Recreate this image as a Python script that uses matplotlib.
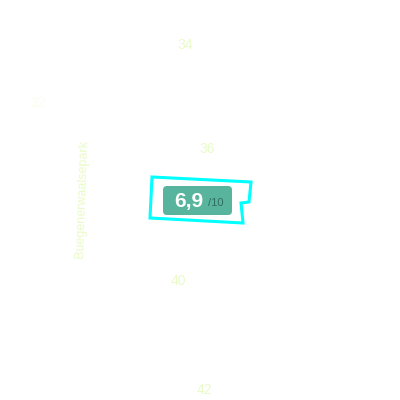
import matplotlib
matplotlib.use("Agg")
import matplotlib.pyplot as plt
from matplotlib.patches import FancyBboxPatch

# huisnummers op de kaart
house_numbers = ["34", "36", "40", "42"]
number_x = [185, 207, 178, 204]
number_y = [45, 149, 281, 390]

# bijna onzichtbaar label links boven (tekst niet goed leesbaar)
faint_number = "32"
faint_x = 38
faint_y = 103

street_name = "Buegenerwaalsepark"
street_x = 82
street_y = 199

# omtrek van het perceel
plot_x = [152, 251, 249, 241, 243, 150]
plot_y = [177, 182, 202, 203, 223, 218]

score = "6,9"
score_max = "/10"

fig = plt.figure(figsize=(4, 4), dpi=100)
ax = fig.add_axes([0, 0, 1, 1])
ax.set_xlim(0, 400)
ax.set_ylim(400, 0)
ax.axis("off")

LABEL = "#e9fbc8"

for nr, x, y in zip(house_numbers, number_x, number_y):
    ax.text(x, y, nr, color=LABEL, fontsize=10, ha="center", va="center",
            family="Liberation Sans")

ax.text(faint_x, faint_y, faint_number, color="#fdfdf0", fontsize=10, ha="center",
        va="center", family="Liberation Sans")

ax.text(street_x, street_y, street_name, color=LABEL, fontsize=9, rotation=88,
        ha="center", va="center", family="Liberation Sans", rotation_mode="anchor")

# perceel
ax.fill(plot_x, plot_y, facecolor="white", edgecolor="#00ffff", linewidth=2.2,
        joinstyle="miter")

# scorelabel
box = FancyBboxPatch((166, 189), 63, 23, boxstyle="round,pad=3,rounding_size=4",
                     facecolor="#58b49c", edgecolor="none")
ax.add_patch(box)
ax.text(174, 202, score, color="white", fontsize=15, fontweight="bold", ha="left",
        va="center", family="Liberation Sans")
ax.text(208, 203, score_max, color="#2f6f60", fontsize=8, ha="left", va="center",
        family="Liberation Sans")

fig.savefig("out.png", dpi=100)
